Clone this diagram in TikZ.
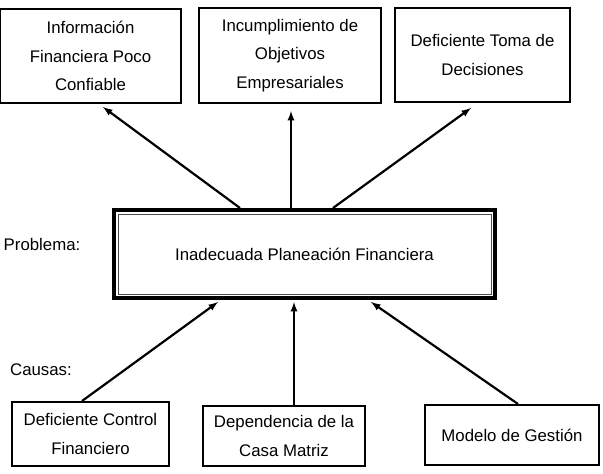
\documentclass[tikz,border=0pt]{standalone}
\usepackage{fontspec}
\setmainfont{Liberation Sans}
\usetikzlibrary{arrows,shapes}

\begin{document}
\begin{tikzpicture}[x=1pt,y=-1pt,>=latex]
        \tikzstyle{box}=[rectangle, line width=2.4pt, draw=black, fill=white, inner sep=0pt, align=center,
                         font=\fontsize{16.8}{28.5}\selectfont]
        \tikzstyle{problem}=[box, line width=4pt]
        \tikzstyle{label}=[inner sep=0pt, font=\fontsize{16.8}{20}\selectfont]
        \tikzstyle{link}=[->, line width=2.2pt]
        \useasboundingbox (0,0) rectangle (603,474);

        % efectos
        \node [box, minimum width=180.6pt, minimum height=93.6pt] (e1) at (90.5,56)
          {Información\\Financiera Poco\\Confiable};
        \node [box, minimum width=181.6pt, minimum height=94.6pt] (e2) at (290,55.5)
          {Incumplimiento de\\Objetivos\\Empresariales};
        \node [box, minimum width=174.6pt, minimum height=93.6pt] (e3) at (482.5,55)
          {Deficiente Toma de\\Decisiones};

        % problema central
        \node [label] (lp) at (42,244) {Problema:};
        \node [problem, minimum width=381pt, minimum height=88pt] (cp) at (304.5,254)
          {Inadecuada Planeación Financiera};
        \draw [line width=0.9pt, black!70]
          ([shift={(6pt,-6pt)}]cp.north west) rectangle ([shift={(-6pt,6pt)}]cp.south east);

        % causas
        \node [label] (lc) at (41,370) {Causas:};
        \node [box, minimum width=156.6pt, minimum height=63.6pt] (c1) at (90.5,434)
          {Deficiente Control\\Financiero};
        \node [box, minimum width=161.6pt, minimum height=59.6pt] (c2) at (284,436)
          {Dependencia de la\\Casa Matriz};
        \node [box, minimum width=173.6pt, minimum height=59.6pt] (c3) at (512,435)
          {Modelo de Gestión};

        \draw [link] ([xshift=-64.5pt]cp.north) -- ([xshift=12.5pt,yshift=-3pt]e1.south);
        \draw [link] ([xshift=-13.5pt]cp.north) -- ([xshift=1pt,yshift=-7pt]e2.south);
        \draw [link] ([xshift=28.5pt]cp.north) -- ([xshift=-11.5pt,yshift=-5pt]e3.south);

        \draw [link] ([xshift=-8.5pt]c1.north) -- ([xshift=-86.5pt,yshift=-2pt]cp.south);
        \draw [link] ([xshift=10pt]c2.north) -- ([xshift=-10.5pt,yshift=-2pt]cp.south);
        \draw [link] ([xshift=6pt]c3.north) -- ([xshift=66.5pt,yshift=-2pt]cp.south);
      \end{tikzpicture}
\end{document}
